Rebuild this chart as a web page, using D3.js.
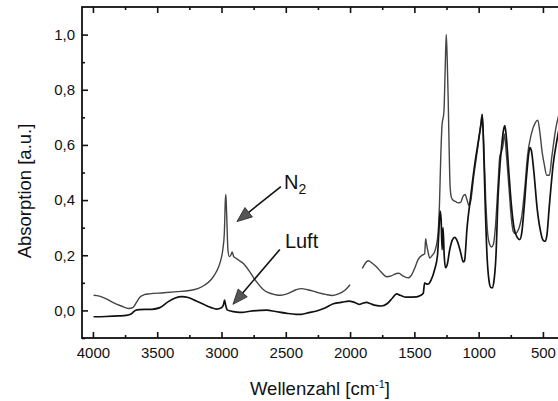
<!DOCTYPE html>
<html>
<head>
<meta charset="utf-8">
<script src="https://cdn.jsdelivr.net/npm/d3@7/dist/d3.min.js"></script>
<style>
  html, body { margin: 0; padding: 0; background: #fff; }
  svg { display: block; font-family: "Liberation Sans", Arial, sans-serif; }
</style>
</head>
<body>
<svg id="chart" width="558" height="401"></svg>
<script>
// ---- data (wavenumber in cm^-1, absorption in a.u.) ----
const n2Wave = [3995,3950,3900,3850,3780,3720,3690,3660,3635,3600,3560,3450,3350,3250,3180,3130,3080,3040,3010,2990,2978,2970,2966,2960,2950,2940,2928,2917,2905,2890,2860,2830,2780,2730,2680,2640,2580,2540,2480,2420,2380,2330,2260,2190,2140,2090,2040,2000,
  1950,
  1905,1880,1858,1830,1795,1760,1716,1680,1640,1620,1590,1548,1520,1500,1470,1440,1420,1412,1405,1395,1380,1360,1345,1320,1305,1295,1285,1270,1260,1252,1245,1237,1230,1222,1212,1200,1180,1160,1140,1120,1105,1090,1075,1060,1040,1010,985,972,960,945,930,915,900,885,870,850,835,822,810,800,785,765,745,730,715,700,685,665,640,620,590,560,540,525,505,490,470,450,430,400,370];
const n2Abs = [0.055,0.052,0.043,0.030,0.016,0.007,0.010,0.030,0.048,0.057,0.060,0.064,0.068,0.072,0.080,0.092,0.112,0.140,0.175,0.220,0.280,0.400,0.420,0.350,0.220,0.195,0.200,0.212,0.195,0.190,0.180,0.170,0.140,0.105,0.078,0.065,0.057,0.055,0.062,0.075,0.079,0.075,0.066,0.058,0.054,0.060,0.073,0.093,
  null,
  0.152,0.172,0.180,0.172,0.158,0.140,0.122,0.125,0.134,0.135,0.125,0.118,0.130,0.150,0.185,0.200,0.205,0.260,0.240,0.215,0.190,0.200,0.210,0.260,0.380,0.550,0.670,0.720,0.880,1.000,0.920,0.770,0.600,0.450,0.410,0.400,0.395,0.390,0.392,0.415,0.420,0.400,0.380,0.400,0.480,0.580,0.670,0.710,0.600,0.400,0.280,0.240,0.230,0.240,0.300,0.450,0.560,0.575,0.600,0.640,0.570,0.450,0.330,0.285,0.278,0.285,0.300,0.340,0.450,0.560,0.640,0.680,0.690,0.650,0.570,0.530,0.490,0.490,0.560,0.660,0.720];

const luftWave = [3995,3900,3800,3740,3700,3671,3640,3541,3480,3420,3360,3308,3260,3200,3140,3080,3040,3000,2985,2976,2968,2955,2930,2880,2840,2780,2700,2649,2580,2500,2420,2380,2320,2260,2200,2130,2060,2009,1960,1924,1895,1872,1840,1800,1755,1710,1670,1638,1610,1561,1483,1450,1431,1420,1410,1395,1370,1341,1320,1310,1300,1292,1284,1277,1268,1258,1245,1225,1205,1185,1165,1140,1120,1110,1090,1060,1030,1000,980,972,962,950,935,920,905,895,880,865,850,835,820,808,796,785,765,745,725,700,680,665,645,625,610,601,590,570,545,520,500,484,470,450,420,390,370];
const luftAbs = [-0.023,-0.022,-0.020,-0.018,-0.012,0.000,0.003,0.004,0.010,0.030,0.045,0.050,0.047,0.035,0.022,0.010,0.005,0.010,0.020,0.037,0.020,0.002,-0.002,-0.006,-0.007,-0.003,0.000,0.001,-0.004,-0.010,-0.014,-0.014,-0.008,-0.002,0.008,0.024,0.030,0.034,0.028,0.022,0.027,0.029,0.024,0.018,0.016,0.025,0.045,0.060,0.055,0.048,0.049,0.055,0.062,0.100,0.097,0.095,0.110,0.150,0.200,0.280,0.360,0.330,0.220,0.300,0.200,0.155,0.165,0.220,0.255,0.265,0.250,0.210,0.176,0.180,0.300,0.420,0.530,0.620,0.680,0.710,0.600,0.400,0.200,0.110,0.083,0.082,0.110,0.200,0.400,0.520,0.600,0.650,0.670,0.630,0.500,0.380,0.300,0.265,0.257,0.280,0.380,0.500,0.570,0.590,0.580,0.500,0.370,0.290,0.255,0.250,0.270,0.380,0.530,0.620,0.670];

const xMajorTicks = [4000,3500,3000,2500,2000,1500,1000,500];
const xMinorTicks = [3750,3250,2750,2250,1750,1250,750];
const yMajorTicks = [0.0,0.2,0.4,0.6,0.8,1.0];
const yMinorTicks = [-0.1,0.1,0.3,0.5,0.7,0.9];

const labelN2 = {tip:[2880,0.322], tail:[2538,0.449], text:[2514,0.44]};
const labelLuft = {tip:[2911,0.022], tail:[2546,0.221], text:[2507,0.228]};

// ---- layout ----
const svg = d3.select("#chart");
const plotLeft = 82, plotTop = 7, plotBottom = 338;
const x = d3.scaleLinear().domain([4085, 300]).range([plotLeft, plotLeft + 3785 * 450 / 3500]);
const y = d3.scaleLinear().domain([-0.1, 1.1]).range([plotBottom, plotTop]);
const xr = x.range()[1];

const fmt = v => d3.format(".1f")(v).replace(".", ",");

function styleAxis(g) {
  g.select(".domain").remove();
  g.selectAll(".tick line").attr("stroke", "#111").attr("stroke-width", 1.6);
  g.selectAll(".tick text").attr("fill", "#111").style("font-size", "15px")
    .style("font-family", "'Liberation Sans', Arial, sans-serif");
}
svg.append("g").attr("transform", `translate(0,${plotBottom})`)
  .call(d3.axisBottom(x).tickValues(xMajorTicks).tickSize(-6).tickPadding(9).tickFormat(d3.format("d")))
  .call(styleAxis);
svg.append("g").attr("transform", `translate(0,${plotBottom})`)
  .call(d3.axisBottom(x).tickValues(xMinorTicks).tickSize(-3).tickFormat(""))
  .call(styleAxis);
svg.append("g").attr("transform", `translate(0,${plotTop})`)
  .call(d3.axisTop(x).tickValues(xMajorTicks).tickSize(-6).tickFormat(""))
  .call(styleAxis);
svg.append("g").attr("transform", `translate(0,${plotTop})`)
  .call(d3.axisTop(x).tickValues(xMinorTicks).tickSize(-3).tickFormat(""))
  .call(styleAxis);
svg.append("g").attr("transform", `translate(${plotLeft},0)`)
  .call(d3.axisLeft(y).tickValues(yMajorTicks).tickSize(-6).tickPadding(7).tickFormat(fmt))
  .call(styleAxis);
svg.append("g").attr("transform", `translate(${plotLeft},0)`)
  .call(d3.axisLeft(y).tickValues(yMinorTicks).tickSize(-3).tickFormat(""))
  .call(styleAxis);

svg.append("rect").attr("x", plotLeft).attr("y", plotTop).attr("width", xr - plotLeft).attr("height", plotBottom - plotTop)
  .attr("fill", "none").attr("stroke", "#111").attr("stroke-width", 1.8);

const n2 = n2Wave.map((w, i) => ({w, a: n2Abs[i]}));
const luft = luftWave.map((w, i) => ({w, a: luftAbs[i]}));
const line = d3.line().defined(d => d.a !== null).x(d => x(d.w)).y(d => y(d.a)).curve(d3.curveMonotoneX);

svg.append("path").datum(n2).attr("d", line).attr("fill", "none")
  .attr("stroke", "#444").attr("stroke-width", 1.4);
svg.append("path").datum(luft).attr("d", line).attr("fill", "none")
  .attr("stroke", "#111").attr("stroke-width", 1.7);

function arrow(lbl) {
  const x1 = x(lbl.tail[0]), y1 = y(lbl.tail[1]), x2 = x(lbl.tip[0]), y2 = y(lbl.tip[1]);
  const ang = Math.atan2(y2 - y1, x2 - x1), L = 15, W = 6;
  const bx = x2 - L * Math.cos(ang), by = y2 - L * Math.sin(ang);
  svg.append("line").attr("x1", x1).attr("y1", y1).attr("x2", bx).attr("y2", by)
    .attr("stroke", "#111").attr("stroke-width", 1.6);
  const px = -Math.sin(ang) * W, py = Math.cos(ang) * W;
  svg.append("path").attr("d", `M${x2},${y2}L${bx + px},${by + py}L${bx - px},${by - py}Z`)
    .attr("fill", "#555").attr("stroke", "#222").attr("stroke-width", 0.8);
}
arrow(labelN2);
arrow(labelLuft);

const tN2 = svg.append("text").attr("x", x(labelN2.text[0])).attr("y", y(labelN2.text[1]))
  .style("font-size", "20px").attr("fill", "#111").text("N");
tN2.append("tspan").attr("dy", 5).style("font-size", "14px").text("2");

svg.append("text").attr("x", x(labelLuft.text[0])).attr("y", y(labelLuft.text[1]))
  .style("font-size", "20px").attr("fill", "#111").text("Luft");

const xt = svg.append("text").attr("x", 320).attr("y", 395).attr("text-anchor", "middle")
  .style("font-size", "18.5px").attr("fill", "#111").text("Wellenzahl [cm");
xt.append("tspan").attr("dy", -7).style("font-size", "11px").text("-1");
xt.append("tspan").attr("dy", 7).text("]");

svg.append("text").attr("transform", "translate(31,191) rotate(-90)").attr("text-anchor", "middle")
  .style("font-size", "18.5px").attr("fill", "#111").text("Absorption [a.u.]");
</script>
</body>
</html>
